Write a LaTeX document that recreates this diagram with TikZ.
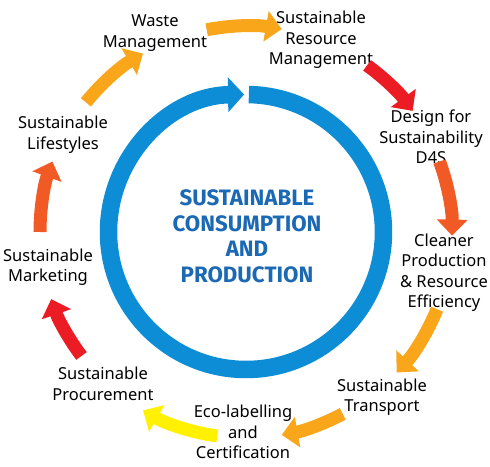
\documentclass[tikz,border=0pt]{standalone}
\usepackage{fontspec}
\setmainfont{Noto Sans}
\newfontfamily\headfont{Fira Sans}
\usepackage{xcolor}
\definecolor{ringblue}{HTML}{0C8DD6}
\definecolor{hubblue}{HTML}{1B69B4}
\definecolor{amber}{HTML}{F9A61B}
\definecolor{scarlet}{HTML}{EC1C24}
\definecolor{flame}{HTML}{F15A24}
\definecolor{lemon}{HTML}{FFF100}
\usepackage{tikz}
\usetikzlibrary{arrows.meta}
\tikzset{
  ring/.style={-{Triangle[length=16pt, width=34pt]}, line width=17.5pt, draw=ringblue},
  flow/.style={-{Triangle[length=16pt, width=30pt]}, line width=13pt},
  topic/.style={align=center, font=\fontsize{16.5}{20.5}\selectfont, text=black, inner sep=0pt},
  hub/.style={align=center, font=\headfont\bfseries\fontsize{22.3}{25.5}\selectfont, text=hubblue, inner sep=0pt},
}

\begin{document}
\begin{tikzpicture}[x=1pt, y=1pt]
  \useasboundingbox (-246,-234) rectangle (244,232);

  % The central cycle, open at the top.
  \coordinate (r0) at (88.8:137.5);
  \draw[ring] (r0) arc[start angle=88.8, end angle=-269.2, radius=137.5];
  \node[hub] (scp) at (1,-4.5) {SUSTAINABLE\\CONSUMPTION\\AND\\PRODUCTION};

  % The nine stages round it.
  \node[topic] (waste) at (-91,199) {Waste\\Management};
  \node[topic] (srm) at (75,192) {Sustainable\\Resource\\Management};
  \node[topic] (dfs) at (185,95) {Design for\\Sustainability\\D4S};
  \node[topic] (cp) at (198,-40.5) {Cleaner\\Production\\\& Resource\\Efficiency};
  \node[topic] (trans) at (136,-165) {Sustainable\\Transport};
  \node[topic] (eco) at (-3,-200) {Eco-labelling\\and\\Certification};
  \node[topic] (proc) at (-143,-152) {Sustainable\\Procurement};
  \node[topic] (mkt) at (-198,-35) {Sustainable\\Marketing};
  \node[topic] (life) at (-183,97.5) {Sustainable\\Lifestyles};

  % Arrows between the stages, all on one outer circle.
  \foreach \a/\b/\c [count=\i] in {141/120/amber, 101/80/amber, 54/36/scarlet,
      20/-1/flame, -22/-43/amber, -62/-80/amber, -98/-120/lemon,
      -143/-161/scarlet, -180/-200/flame} {
    \coordinate (s\i) at (\a:206);
    \draw[flow, draw=\c] (s\i) arc[start angle=\a, end angle=\b, radius=206];
  }
\end{tikzpicture}
\end{document}
